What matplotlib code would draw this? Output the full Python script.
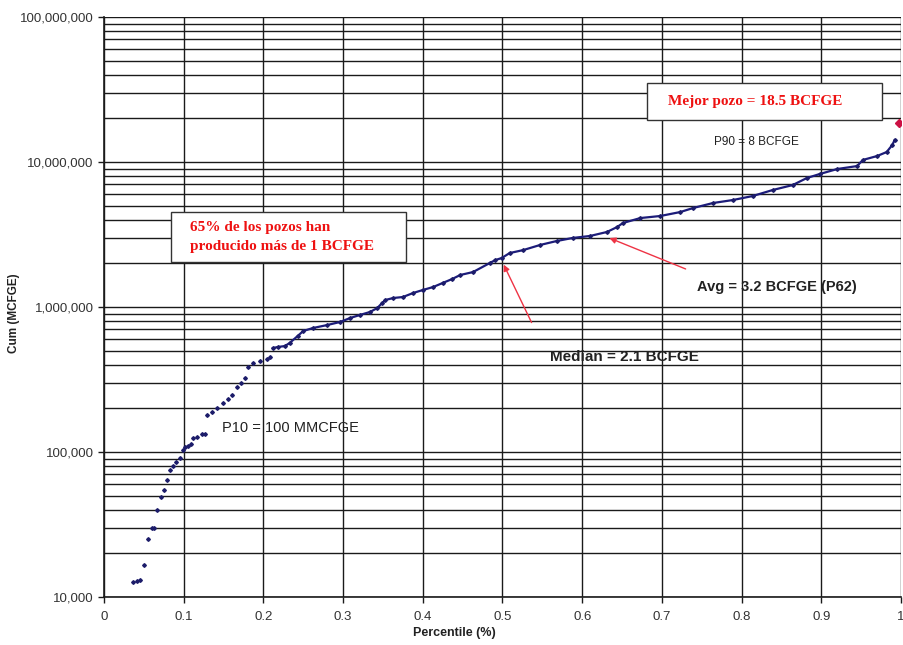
import matplotlib
matplotlib.use("Agg")
import matplotlib.pyplot as plt
from matplotlib.patches import Rectangle
from matplotlib.ticker import LogLocator, NullFormatter
import numpy as np

plt.rcParams['font.family'] = ['Liberation Sans', 'DejaVu Sans']

# percentile of each well (fraction) and cumulative production (MCFGE)
pct = [0.036, 0.041, 0.045, 0.050, 0.055, 0.060, 0.063, 0.066, 0.072, 0.075,
       0.079, 0.083, 0.087, 0.090, 0.095, 0.099, 0.102, 0.105, 0.109, 0.112,
       0.117, 0.123, 0.127, 0.129, 0.136, 0.142, 0.149, 0.156, 0.161, 0.167,
       0.172, 0.177, 0.181, 0.187, 0.196, 0.205, 0.208, 0.212, 0.218, 0.227,
       0.233, 0.243, 0.250, 0.262, 0.280, 0.296, 0.309, 0.321, 0.334, 0.343,
       0.349, 0.353, 0.363, 0.375, 0.388, 0.400, 0.413, 0.425, 0.437, 0.447,
       0.463, 0.484, 0.491, 0.499, 0.509, 0.526, 0.547, 0.568, 0.588, 0.610,
       0.631, 0.644, 0.651, 0.673, 0.698, 0.723, 0.739, 0.764, 0.789, 0.814,
       0.839, 0.864, 0.882, 0.898, 0.920, 0.945, 0.952, 0.970, 0.982, 0.989,
       0.992]
cum = [12700, 12900, 13100, 16600, 25100, 29900, 30000, 39800, 49000, 54700,
       64100, 75200, 80000, 85300, 91000, 103000, 108000, 110000, 113000, 125000,
       127000, 133000, 133000, 180000, 189000, 201000, 218000, 232000, 247000, 281000,
       299000, 324000, 385000, 411000, 424000, 438000, 452000, 521000, 530000, 538000,
       565000, 631000, 683000, 716000, 751000, 788000, 840000, 881000, 925000, 985000,
       1066000, 1118000, 1154000, 1172000, 1250000, 1310000, 1374000, 1465000, 1561000, 1663000,
       1742000, 2010000, 2108000, 2177000, 2356000, 2470000, 2677000, 2852000, 2994000, 3091000,
       3292000, 3565000, 3796000, 4108000, 4244000, 4519000, 4814000, 5214000, 5468000, 5829000,
       6411000, 6934000, 7762000, 8265000, 8950000, 9380000, 10330000, 11000000, 11720000, 13100000,
       14180000]

best_pct = 0.997
best_cum = 18500000

avg_pt = (0.631, 3040000)
median_pt = (0.500, 2040000)

x_ticks = [0, 0.1, 0.2, 0.3, 0.4, 0.5, 0.6, 0.7, 0.8, 0.9, 1]
x_labels = ['0', '0.1', '0.2', '0.3', '0.4', '0.5', '0.6', '0.7', '0.8', '0.9', '1']
y_ticks = [1e4, 1e5, 1e6, 1e7, 1e8]
y_labels = ['10,000', '100,000', '1,000,000', '10,000,000', '100,000,000']

fig = plt.figure(figsize=(9.04, 6.45), dpi=100)
ax = fig.add_axes([0.115, 0.0744, 0.8817, 0.8992])

ax.set_yscale('log')
ax.set_xlim(0, 1)
ax.set_ylim(1e4, 1e8)

ax.set_xticks(x_ticks)
ax.set_xticklabels(x_labels)
ax.set_yticks(y_ticks)
ax.set_yticklabels(y_labels)
ax.yaxis.set_minor_locator(LogLocator(base=10, subs=np.arange(2, 10)))
ax.yaxis.set_minor_formatter(NullFormatter())

ax.grid(True, which='major', axis='x', color='#1a1a1a', lw=1.0)
ax.grid(True, which='both', axis='y', color='#1a1a1a', lw=1.0)
ax.tick_params(axis='both', which='major', direction='out', length=4, width=1,
               colors='#1a1a1a', labelcolor='#333333', labelsize=9.5)
ax.tick_params(axis='y', which='minor', length=0)
ax.tick_params(axis='x', pad=6)
for s in ['top', 'right']:
    ax.spines[s].set_visible(False)
for s in ['left', 'bottom']:
    ax.spines[s].set_color('#1a1a1a')
    ax.spines[s].set_linewidth(1.2)

# dense part of the curve, then the individual wells
p = np.array(pct)
c = np.array(cum)
dense = p >= 0.21
ax.plot(p[dense], c[dense], color='#1c1c7a', lw=1.6, zorder=3)
ax.plot(p, c, ls='none', marker='D', ms=1.9, color='#1c1c6a', zorder=4)
ax.plot([best_pct], [best_cum], ls='none', marker='D', ms=4, color='#cc1144', zorder=5)

ax.set_xlabel('Percentile (%)', fontsize=9, fontweight='bold', color='#222222')
ax.set_ylabel('Cum (MCFGE)', fontsize=8.5, fontweight='bold', color='#222222')
ax.xaxis.set_label_coords(0.44, -0.052)
ax.yaxis.set_label_coords(-0.105, 0.49)

# text boxes
ax.add_patch(Rectangle((0.681, 0.822), 0.295, 0.064, transform=ax.transAxes,
                       facecolor='white', edgecolor='#333333', lw=1.0, zorder=6))
ax.text(0.708, 0.855, 'Mejor pozo = 18.5 BCFGE', transform=ax.transAxes,
        family='Liberation Serif', fontsize=11, fontweight='bold', color='#ee1111',
        va='center', ha='left', zorder=7)

ax.add_patch(Rectangle((0.084, 0.578), 0.295, 0.086, transform=ax.transAxes,
                       facecolor='white', edgecolor='#333333', lw=1.0, zorder=6))
ax.text(0.108, 0.621, '65% de los pozos han\nproducido más de 1 BCFGE', transform=ax.transAxes,
        family='Liberation Serif', fontsize=11, fontweight='bold', color='#ee1111',
        va='center', ha='left', linespacing=1.55, zorder=7)

ax.text(0.819, 0.784, 'P90 = 8 BCFGE', transform=ax.transAxes, fontsize=8.5,
        color='#222222', ha='center', va='center', zorder=7)
ax.text(0.148, 0.291, 'P10 = 100 MMCFGE', transform=ax.transAxes, fontsize=10.5,
        color='#222222', ha='left', va='center', zorder=7)

ax.annotate('', xy=avg_pt, xytext=(0.733, 1800000),
            arrowprops=dict(arrowstyle='-|>', color='#ee3344', lw=1.0, mutation_scale=9),
            zorder=7)
ax.text(0.744, 0.534, 'Avg = 3.2 BCFGE (P62)', transform=ax.transAxes, fontsize=10.5,
        fontweight='bold', color='#222222', ha='left', va='center', zorder=7)

ax.annotate('', xy=median_pt, xytext=(0.538, 751000),
            arrowprops=dict(arrowstyle='-|>', color='#ee3344', lw=1.0, mutation_scale=9),
            zorder=7)
ax.text(0.559, 0.414, 'Median = 2.1 BCFGE', transform=ax.transAxes, fontsize=11,
        fontweight='bold', color='#222222', ha='left', va='center', zorder=7)

fig.savefig('out.png', dpi=100)
